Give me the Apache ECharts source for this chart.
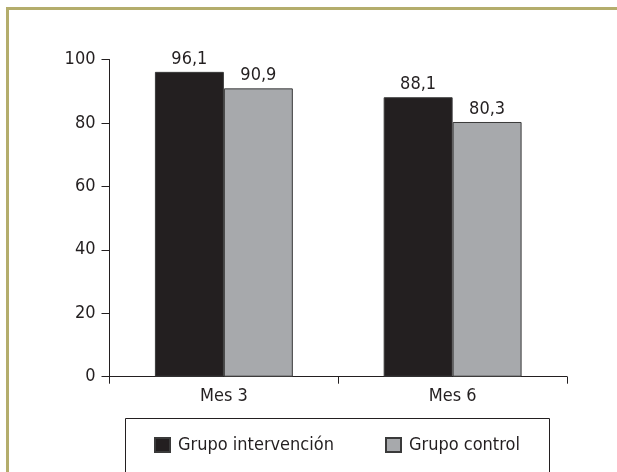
<!DOCTYPE html>
<html>
<head>
<meta charset="utf-8">
<script src="https://cdn.jsdelivr.net/npm/echarts@6/dist/echarts.min.js"></script>
<style>
  html, body { margin: 0; padding: 0; background: #ffffff; }
  #chart { width: 617px; height: 472px; }
</style>
</head>
<body>
<div id="chart"></div>
<script>
// Months of follow-up
const categories = ['Mes 3', 'Mes 6'];
// Percentages per group
const intervencion = [96.1, 88.1];
const control = [90.9, 80.3];
const seriesNames = ['Grupo intervención', 'Grupo control'];
// Value axis ticks
const yTicks = [0, 20, 40, 60, 80, 100];

const FONT = '"DejaVu Sans Condensed", "Liberation Sans Narrow", sans-serif';
const FS = 18;
const INK = '#231f20';

const comma = p => p.value.toFixed(1).replace('.', ',');

const chart = echarts.init(document.getElementById('chart'), null, { renderer: 'canvas' });

chart.setOption({
  animation: false,
  backgroundColor: '#ffffff',
  textStyle: { fontFamily: FONT, color: INK },
  grid: { left: 109.5, right: 50, top: 59.5, bottom: 95.3, containLabel: false },
  xAxis: {
    type: 'category',
    data: categories,
    axisLine: { lineStyle: { color: INK, width: 1 } },
    axisTick: { show: true, length: 7, lineStyle: { color: INK } },
    axisLabel: { fontSize: FS, color: INK, fontFamily: FONT, margin: 11 }
  },
  yAxis: {
    type: 'value',
    min: yTicks[0],
    max: yTicks[yTicks.length - 1],
    interval: yTicks[1] - yTicks[0],
    splitLine: { show: false },
    axisLine: { show: true, lineStyle: { color: INK, width: 1 } },
    axisTick: { show: true, length: 8, lineStyle: { color: INK } },
    axisLabel: { fontSize: FS, color: INK, fontFamily: FONT, margin: 14 }
  },
  legend: [
    {
      data: [seriesNames[0]],
      left: 149, top: 431,
      icon: 'rect', itemWidth: 15, itemHeight: 14,
      textStyle: { fontSize: FS, color: INK, fontFamily: FONT, padding: [0, 0, 0, 3] }
    },
    {
      data: [seriesNames[1]],
      left: 380, top: 431,
      icon: 'rect', itemWidth: 15, itemHeight: 14,
      textStyle: { fontSize: FS, color: INK, fontFamily: FONT, padding: [0, 0, 0, 3] }
    }
  ],
  graphic: [
    // outer frame (left and top edges visible)
    {
      type: 'rect', silent: true, z: 100,
      shape: { x: 7.5, y: 8.5, width: 700, height: 600 },
      style: { fill: null, stroke: '#b4ad6c', lineWidth: 3 }
    },
    // legend box
    {
      type: 'rect', silent: true, z: 0,
      shape: { x: 125.5, y: 418.5, width: 424, height: 100 },
      style: { fill: null, stroke: INK, lineWidth: 1 }
    }
  ],
  series: [
    {
      name: seriesNames[0],
      type: 'bar',
      data: intervencion,
      barGap: '0%',
      barCategoryGap: '39.7%',
      itemStyle: { color: INK, borderColor: '#3a3a3a', borderWidth: 1 },
      label: { show: true, position: 'top', distance: 4, fontSize: FS, color: INK, fontFamily: FONT, formatter: comma }
    },
    {
      name: seriesNames[1],
      type: 'bar',
      data: control,
      itemStyle: { color: '#a7a9ac', borderColor: '#3a3a3a', borderWidth: 1 },
      label: { show: true, position: 'top', distance: 4, fontSize: FS, color: INK, fontFamily: FONT, formatter: comma }
    }
  ]
});
</script>
</body>
</html>
